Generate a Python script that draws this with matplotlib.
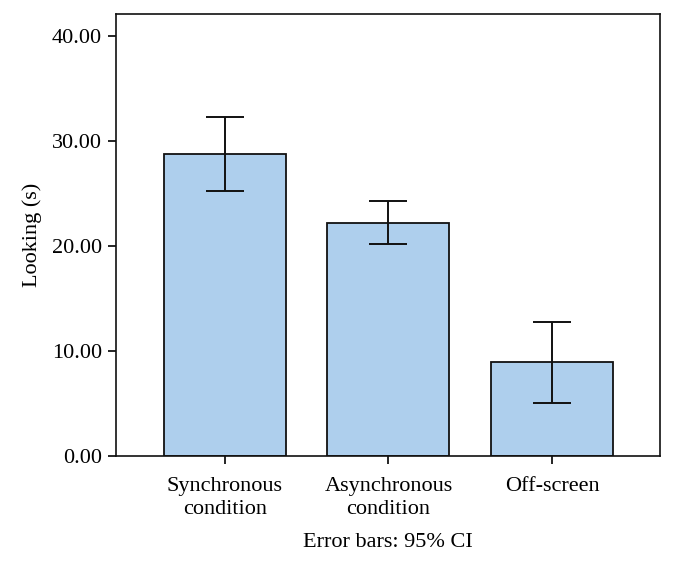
import numpy as np
import matplotlib
matplotlib.use('Agg')
import matplotlib.pyplot as plt

# data
categories = ['Synchronous\ncondition', 'Asynchronous\ncondition', 'Off-screen']
means = [28.8, 22.2, 8.95]
ci_low = [25.27, 20.16, 5.08]
ci_high = [32.25, 24.29, 12.73]
yticks = [0, 10, 20, 30, 40]

plt.rcParams['font.family'] = ['Liberation Serif', 'DejaVu Serif']

def main():
    fig = plt.figure(figsize=(6.74, 5.61), dpi=100)
    ax = fig.add_axes([0.172, 0.187, 0.807, 0.788])

    x = np.arange(len(categories))
    means_a = np.array(means)
    yerr = np.vstack([means_a - np.array(ci_low), np.array(ci_high) - means_a])

    ax.bar(x, means, width=0.746, color='#aecfed', edgecolor='#111111', linewidth=1.3, zorder=2)
    ax.errorbar(x, means, yerr=yerr, fmt='none', ecolor='#111111', elinewidth=1.4,
                capsize=13.4, capthick=1.4, zorder=3)

    ax.set_xlim(-0.667, 2.66)
    ax.set_ylim(0, 42.1)
    ax.set_yticks(yticks)
    ax.set_yticklabels([f'{v:.2f}' for v in yticks])
    ax.set_xticks(x)
    ax.set_xticklabels(categories, linespacing=1.3)
    ax.tick_params(axis='y', direction='out', length=6, width=1.2, labelsize=16, pad=4)
    ax.tick_params(axis='x', direction='out', length=6, width=1.2, labelsize=16, pad=9)
    for s in ax.spines.values():
        s.set_linewidth(1.2)
        s.set_color('#111111')

    ax.set_ylabel('Looking (s)', fontsize=16, labelpad=7)
    ax.set_xlabel('Error bars: 95% CI', fontsize=16, labelpad=10)

    fig.savefig('out.png', dpi=100)

if __name__ == '__main__':
    main()
